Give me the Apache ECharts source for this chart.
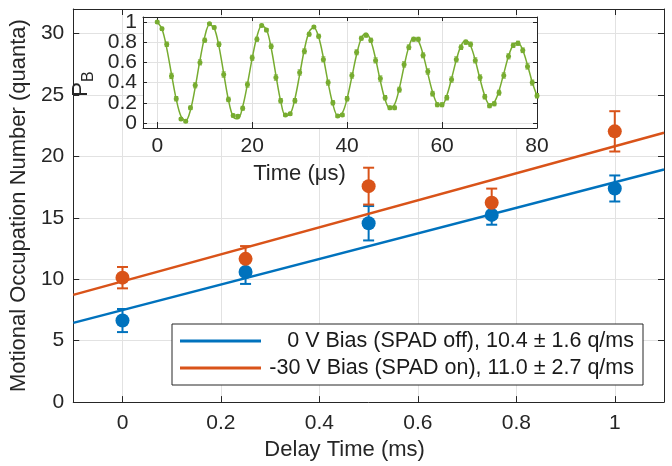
<!DOCTYPE html>
<html>
<head>
<meta charset="utf-8">
<script src="https://cdn.jsdelivr.net/npm/echarts@6/dist/echarts.min.js"></script>
<style>html,body{margin:0;padding:0;background:#fff}#c{width:672px;height:466px}</style>
</head>
<body>
<div id="c"></div>
<script>
// ---- main chart data ----
const delayTimes = [0, 0.25, 0.5, 0.75, 1];
const blueY = [6.64, 10.59, 14.56, 15.24, 17.39];
const blueErr = [0.94, 0.97, 1.40, 0.80, 1.06];
const orangeY = [10.13, 11.66, 17.58, 16.23, 22.04];
const orangeErr = [0.87, 1.04, 1.50, 1.15, 1.64];
const fitX = [-0.1, 1.1];
const blueFit = [6.45, 18.93];
const orangeFit = [8.73, 21.93];
const seriesNames = ['0 V Bias (SPAD off), 10.4 \u00b1 1.6 q/ms', '-30 V Bias (SPAD on), 11.0 \u00b1 2.7 q/ms'];
const mainXTicks = [0, 0.2, 0.4, 0.6, 0.8, 1];
const mainYTicks = [0, 5, 10, 15, 20, 25, 30];

// ---- inset data ----
const insetT = [0,1,2,3,4,5,6,7,8,9,10,11,12,13,14,15,16,17,18,19,20,21,22,23,24,25,26,27,28,29,30,31,32,33,34,35,36,37,38,39,40,41,42,43,44,45,46,47,48,49,50,51,52,53,54,55,56,57,58,59,60,61,62,63,64,65,66,67,68,69,70,71,72,73,74,75,76,77,78,79,80];
const insetP = [1.00,0.933,0.78,0.466,0.24,0.04,0.016,0.15,0.373,0.60,0.82,0.983,0.946,0.78,0.48,0.233,0.073,0.067,0.146,0.38,0.646,0.83,0.966,
  0.92,0.76,0.45,0.22,0.08,0.09,0.22,0.50,0.71,0.88,0.95,0.86,0.63,0.40,0.20,0.07,0.08,0.24,0.47,0.70,0.84,0.87,0.82,0.62,0.44,0.25,0.15,
  0.15,0.33,0.58,0.75,0.83,0.83,0.67,0.51,0.29,0.18,0.18,0.25,0.43,0.63,0.75,0.80,0.78,0.62,0.45,0.26,0.17,0.19,0.30,0.47,0.66,0.77,0.79,0.72,0.56,0.40,0.27];
const insetErr = [0.010,0.015,0.022,0.026,0.022,0.012,0.010,0.018,0.025,0.025,0.020,0.010,0.015,0.022,0.026,0.022,0.014,0.014,0.019,0.025,0.025,0.020,0.012,
  0.016,0.022,0.026,0.022,0.014,0.015,0.022,0.026,0.024,0.018,0.014,0.019,0.025,0.025,0.021,0.014,0.015,0.022,0.026,0.024,0.019,0.018,0.020,0.025,0.026,0.022,0.018,
  0.018,0.024,0.026,0.023,0.019,0.019,0.024,0.026,0.023,0.019,0.019,0.022,0.026,0.025,0.022,0.020,0.021,0.025,0.026,0.022,0.019,0.020,0.024,0.026,0.025,0.021,0.020,0.023,0.026,0.025,0.022];
const insetFit = [1.00,0.930,0.740,0.484,0.235,0.066,0.023,0.128,0.352,0.622,0.853,0.973,0.940,0.759,0.491,0.228,0.060,0.041,0.163,0.385,0.640,0.855,0.964,
  0.928,0.743,0.473,0.219,0.074,0.087,0.239,0.479,0.728,0.903,0.947,0.851,0.646,0.398,0.186,0.076,0.101,0.243,0.457,0.678,0.839,0.889,0.813,0.635,0.416,0.231,0.143,
  0.184,0.344,0.562,0.754,0.847,0.814,0.680,0.490,0.307,0.190,0.179,0.272,0.439,0.624,0.767,0.820,0.765,0.620,0.434,0.270,0.185,0.205,0.320,0.490,0.660,0.775,0.796,0.720,0.573,0.404,0.269];
const insetXTicks = [0, 20, 40, 60, 80];
const insetYTicks = [0, 0.2, 0.4, 0.6, 0.8, 1];
const insetYLabelsA = [0, 0.4, 0.8];
const insetYLabelsB = [0.2, 0.6, 1];

const FONT = '"Liberation Sans", Arial, Helvetica, sans-serif';
const AX = '#262626';
const GRIDC = '#e2e2e2';
const BLUE = '#0072BD', ORANGE = '#D95319', GREEN = '#77AC30';
const FS = 21;      // tick labels
const FSN = 22;     // axis names
const FSL = 21.5;   // legend

function errRender(color, lw, capHalf) {
  return function (params, api) {
    const x = api.value(0), y = api.value(1), e = api.value(2);
    const top = api.coord([x, y + e]);
    const bot = api.coord([x, y - e]);
    const style = { stroke: color, lineWidth: lw };
    return {
      type: 'group',
      children: [
        { type: 'line', shape: { x1: top[0], y1: top[1], x2: bot[0], y2: bot[1] }, style: style },
        { type: 'line', shape: { x1: top[0] - capHalf, y1: top[1], x2: top[0] + capHalf, y2: top[1] }, style: style },
        { type: 'line', shape: { x1: bot[0] - capHalf, y1: bot[1], x2: bot[0] + capHalf, y2: bot[1] }, style: style }
      ]
    };
  };
}

const labelStyle = { color: AX, fontSize: FS, fontFamily: FONT, showMinLabel: true, showMaxLabel: true, hideOverlap: false };
const nameStyle = { color: AX, fontSize: FSN, fontFamily: FONT };

function boxAxis(gridIndex, min, max, ticks, position, z, extra) {
  const base = {
    gridIndex: gridIndex, type: 'value', min: min, max: max, position: position, z: z,
    axisLine: { show: true, onZero: false, lineStyle: { color: AX, width: 1 } },
    axisTick: { show: true, inside: true, length: 6, customValues: ticks, lineStyle: { color: AX, width: 1 } },
    axisLabel: { show: false, customValues: ticks },
    splitLine: { show: false }
  };
  return Object.assign(base, extra || {});
}

const chart = echarts.init(document.getElementById('c'), null, { renderer: 'canvas' });

const option = {
  animation: false,
  backgroundColor: '#ffffff',
  textStyle: { fontFamily: FONT },
  grid: [
    { left: 64, top: 9, width: 600, height: 398, show: false },
    { left: 143, top: 17, width: 394, height: 111, show: true, backgroundColor: '#ffffff', borderWidth: 0, z: 5 }
  ],
  xAxis: [
    boxAxis(0, -0.1, 1.1, mainXTicks, 'bottom', 1, {
      axisLabel: Object.assign({ show: true, customValues: mainXTicks, margin: 11 }, labelStyle),
      splitLine: { show: true, lineStyle: { color: GRIDC, width: 1 } },
      name: 'Delay Time (ms)', nameLocation: 'middle', nameGap: 27,
      nameTextStyle: Object.assign({ padding: [0, 48, 0, 0] }, nameStyle)
    }),
    boxAxis(0, -0.1, 1.1, mainXTicks, 'top', 1),
    boxAxis(1, -3, 80, insetXTicks, 'bottom', 6, {
      axisLabel: Object.assign({ show: true, customValues: insetXTicks, margin: 8 }, labelStyle),
      splitLine: { show: true, lineStyle: { color: GRIDC, width: 1 } },
      name: 'Time (\u03bcs)', nameLocation: 'middle', nameGap: 35,
      nameTextStyle: Object.assign({ padding: [0, 81, 0, 0] }, nameStyle)
    }),
    boxAxis(1, -3, 80, insetXTicks, 'top', 6, { axisTick: { show: true, inside: true, length: 4, customValues: insetXTicks, lineStyle: { color: AX } } })
  ],
  yAxis: [
    boxAxis(0, 0, 32, mainYTicks, 'left', 1, {
      axisLabel: Object.assign({ show: true, customValues: mainYTicks, margin: 9 }, labelStyle),
      splitLine: { show: true, lineStyle: { color: GRIDC, width: 1 } },
      name: 'Motional Occupation Number (quanta)', nameLocation: 'middle', nameGap: 28, nameRotate: 90,
      nameTextStyle: nameStyle
    }),
    boxAxis(0, 0, 32, mainYTicks, 'right', 1),
    boxAxis(1, -0.05, 1.05, insetYTicks, 'left', 6, {
      axisTick: { show: true, inside: true, length: 4, customValues: insetYTicks, lineStyle: { color: AX } },
      axisLabel: Object.assign({ show: true, customValues: insetYLabelsA, margin: 6 }, labelStyle),
      splitLine: { show: true, lineStyle: { color: GRIDC, width: 1 } },
      name: '{p|P}{s|B}', nameLocation: 'middle', nameGap: 45, nameRotate: 90,
      nameTextStyle: {
        padding: [0, 23, 0, 0],
        rich: {
          p: { fontSize: FSN, fontFamily: FONT, color: AX, padding: [0, 0, 6, 0] },
          s: { fontSize: 16, fontFamily: FONT, color: AX, padding: [10, 0, 0, 0] }
        }
      }
    }),
    boxAxis(1, -0.05, 1.05, insetYTicks, 'right', 6, { axisTick: { show: true, inside: true, length: 4, customValues: insetYTicks, lineStyle: { color: AX } } }),
    {
      gridIndex: 1, type: 'value', min: -0.05, max: 1.05, position: 'left', offset: 0, z: 6,
      axisLine: { show: false }, axisTick: { show: false }, splitLine: { show: false },
      axisLabel: Object.assign({ show: true, customValues: insetYLabelsB, margin: 6 }, labelStyle)
    }
  ],
  legend: {
    data: seriesNames,
    orient: 'vertical',
    left: 172, top: 324,
    padding: [6, 9, 6, 8],
    itemGap: 5, itemWidth: 81, itemHeight: 3, icon: 'rect',
    backgroundColor: '#ffffff', borderColor: AX, borderWidth: 1, borderRadius: 0,
    selectedMode: false, z: 10,
    formatter: function (n) { return '{t|' + n + '}'; },
    textStyle: { rich: { t: { width: 368, align: 'right', fontSize: FSL, lineHeight: 24, fontFamily: FONT, color: '#1a1a1a' } } }
  },
  series: [
    { type: 'custom', name: 'blueErr', xAxisIndex: 0, yAxisIndex: 0, z: 2, clip: false,
      renderItem: errRender(BLUE, 2, 5.5), encode: { x: 0, y: 1 },
      data: delayTimes.map(function (x, i) { return [x, blueY[i], blueErr[i]]; }) },
    { type: 'scatter', name: 'bluePts', xAxisIndex: 0, yAxisIndex: 0, z: 2, symbol: 'circle', symbolSize: 14,
      itemStyle: { color: BLUE, opacity: 1 },
      data: delayTimes.map(function (x, i) { return [x, blueY[i]]; }) },
    { type: 'custom', name: 'orangeErr', xAxisIndex: 0, yAxisIndex: 0, z: 2, clip: false,
      renderItem: errRender(ORANGE, 2, 5.5), encode: { x: 0, y: 1 },
      data: delayTimes.map(function (x, i) { return [x, orangeY[i], orangeErr[i]]; }) },
    { type: 'scatter', name: 'orangePts', xAxisIndex: 0, yAxisIndex: 0, z: 2, symbol: 'circle', symbolSize: 14,
      itemStyle: { color: ORANGE, opacity: 1 },
      data: delayTimes.map(function (x, i) { return [x, orangeY[i]]; }) },
    { type: 'line', name: seriesNames[0], xAxisIndex: 0, yAxisIndex: 0, z: 3, showSymbol: false, symbol: 'none',
      color: BLUE, lineStyle: { color: BLUE, width: 2.5 }, itemStyle: { color: BLUE },
      data: fitX.map(function (x, i) { return [x, blueFit[i]]; }) },
    { type: 'line', name: seriesNames[1], xAxisIndex: 0, yAxisIndex: 0, z: 3, showSymbol: false, symbol: 'none',
      color: ORANGE, lineStyle: { color: ORANGE, width: 2.5 }, itemStyle: { color: ORANGE },
      data: fitX.map(function (x, i) { return [x, orangeFit[i]]; }) },
    { type: 'line', name: 'insetFit', xAxisIndex: 2, yAxisIndex: 2, z: 8, showSymbol: false, symbol: 'none', smooth: 0.35,
      lineStyle: { color: GREEN, width: 1.5 }, itemStyle: { color: GREEN },
      data: insetT.map(function (t, i) { return [t, insetFit[i]]; }) },
    { type: 'custom', name: 'insetErr', xAxisIndex: 2, yAxisIndex: 2, z: 9, clip: false,
      renderItem: errRender(GREEN, 1, 2), encode: { x: 0, y: 1 },
      data: insetT.map(function (t, i) { return [t, insetP[i], insetErr[i]]; }) },
    { type: 'scatter', name: 'insetPts', xAxisIndex: 2, yAxisIndex: 2, z: 9, symbol: 'circle', symbolSize: 5,
      itemStyle: { color: GREEN, opacity: 1 },
      data: insetT.map(function (t, i) { return [t, insetP[i]]; }) }
  ]
};
chart.setOption(option);
</script>
</body>
</html>
